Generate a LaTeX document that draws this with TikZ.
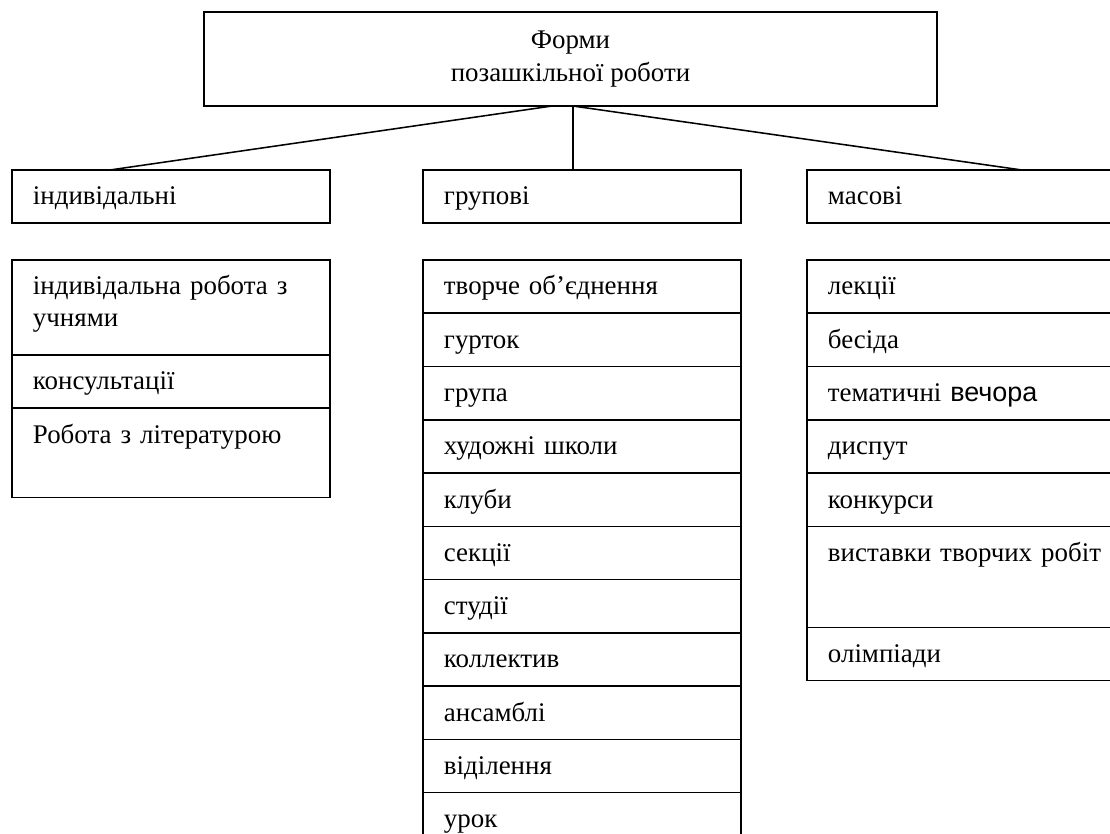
\documentclass[tikz,border=0pt]{standalone}
\usepackage{fontspec}
\setmainfont{Liberation Serif}
\newfontfamily\sansfnt{Liberation Sans}
\usetikzlibrary{calc}

\begin{document}
\begin{tikzpicture}[x=0.52pt,y=-0.52pt,line width=0.8pt,
    font=\fontsize{14}{16.5}\selectfont,
    cell/.style={draw,anchor=north west,outer sep=0pt,inner xsep=10.9pt,inner ysep=0pt,
      text width=143.5pt,align=left,text height=18.2pt,text depth=9.5pt},
    topbox/.style={draw,outer sep=0pt,align=center,minimum width=381pt,minimum height=48.9pt}]
   \clip (0,0) rectangle (1110,834);
   % main box
   \node[topbox] (formy) at (570.5,59) {Форми\\[0.5pt]позашкільної роботи};
   % three kinds of forms
   \node[cell] (indiv) at (12,170) {індивідальні};
   \node[cell] (grup) at (423,170) {групові};
   \node[cell] (masovi) at (807,170) {масові};
   \coordinate (fl) at ($(formy.south)+(-18.5,0)$);
   \coordinate (fs) at ($(formy.south)+(2.5,0)$);
   \draw (fl) -- ($(indiv.north)+(-61,0)$);
   \draw (fs) -- (fs |- grup.north);
   \draw (fs) -- ($(masovi.north)+(56,0)$);
   % individual
   \node[cell,text depth=31.2pt] (i1) at (12,260) {індивідальна робота з\\учнями};
   \node[cell] (i2) at (i1.south west) {консультації};
   \node[cell,text depth=28.3pt] (i3) at (i2.south west) {Робота з літературою};
   % group
   \node[cell] (g1) at (423,260) {творче об’єднення};
   \node[cell] (g2) at (g1.south west) {гурток};
   \node[cell] (g3) at (g2.south west) {група};
   \node[cell] (g4) at (g3.south west) {художні школи};
   \node[cell] (g5) at (g4.south west) {клуби};
   \node[cell] (g6) at (g5.south west) {секції};
   \node[cell] (g7) at (g6.south west) {студії};
   \node[cell] (g8) at (g7.south west) {коллектив};
   \node[cell] (g9) at (g8.south west) {ансамблі};
   \node[cell] (g10) at (g9.south west) {віділення};
   \node[cell] (g11) at (g10.south west) {урок};
   % mass
   \node[cell] (m1) at (807,260) {лекції};
   \node[cell] (m2) at (m1.south west) {бесіда};
   \node[cell] (m3) at (m2.south west) {тематичні {\sansfnt вечора}};
   \node[cell] (m4) at (m3.south west) {диспут};
   \node[cell] (m5) at (m4.south west) {конкурси};
   \node[cell,text depth=34.3pt] (m6) at (m5.south west) {виставки творчих робіт};
   \node[cell] (m7) at (m6.south west) {олімпіади};
\end{tikzpicture}
\end{document}
